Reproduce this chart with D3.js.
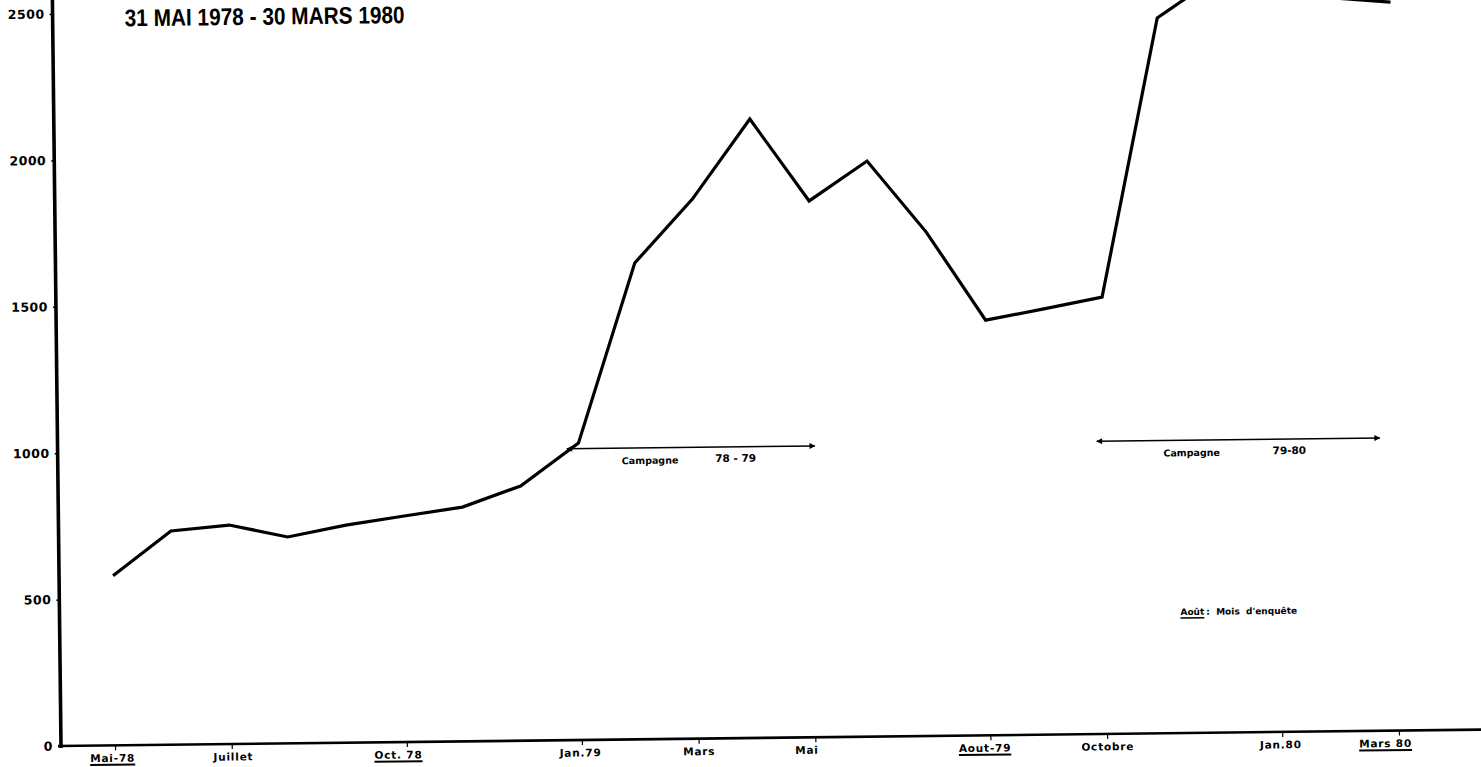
<!DOCTYPE html>
<html><head><meta charset="utf-8">
<script src="https://cdn.jsdelivr.net/npm/d3@7"></script>
<style>body{margin:0;background:#fff}svg{display:block;background:#fff}</style>
</head><body>
<svg id="c" width="1481" height="767"></svg>
<script>
// ---- data ----
const months = ["Mai 78","Juin 78","Juil 78","Août 78","Sept 78","Oct 78","Nov 78","Déc 78",
  "Jan 79","Fév 79","Mars 79","Avr 79","Mai 79","Juin 79","Juil 79","Août 79","Sept 79","Oct 79",
  "Nov 79","Déc 79","Jan 80","Fév 80","Mars 80"];
const values = [579,730,748,705,743,772,800,870,1014,1627,1843,2114,1832,1966,1721,1418,1454,1492,2443,2577,2620,2505,2488];
const tickMonths = [0,2,5,8,10,12,15,17,20,22];
const tickLabels = ["Mai-78","Juillet","Oct. 78","Jan.79","Mars","Mai","Aout-79","Octobre","Jan.80","Mars 80"];
const underlinedLabels = ["Mai-78","Oct. 78","Aout-79","Mars 80"];
const yTicks = [0,500,1000,1500,2000,2500];
const titleText = "31 MAI 1978 - 30 MARS 1980";
const campaignNames = ["Campagne","Campagne"];
const campaignPeriods = ["78 - 79","79-80"];
const campaignStart = [7.8, 16.88];
const campaignEnd = [12.05, 21.73];
const campaignLevel = [995, 1000];
const legendKey = "Août";
const legendText = ":  Mois  d'enquête";
const legendMonth = 18.28, legendValue = 403;

// ---- layout ----
const FONT = "'DejaVu Sans', sans-serif";
const svg = d3.select("#c");
const x = d3.scaleLinear().domain([0,22]).range([115,1399]);
const y = d3.scaleLinear().domain([0,2500]).range([746,14]);
const ox = 61, oy = 746;
const labelNudge = [-3,1,-9,-2,0,-9,-6,0,-2,-14];

const defs = svg.append("defs");
defs.append("marker").attr("id","ah").attr("viewBox","0 0 10 10").attr("refX",9).attr("refY",5)
  .attr("markerWidth",10).attr("markerHeight",6).attr("markerUnits","userSpaceOnUse")
  .attr("orient","auto-start-reverse")
  .append("path").attr("d","M0,0L10,5L0,10Z").attr("fill","#000");

const g = svg.append("g").attr("transform",`rotate(-0.66,${ox},${oy})`);

// title
g.append("text").attr("x",133).attr("y",27).attr("font-family","'Liberation Sans', Arial, sans-serif")
  .attr("font-weight","bold").attr("font-size",24).attr("textLength",280)
  .attr("lengthAdjust","spacingAndGlyphs").text(titleText);

// y axis
const ya = g.append("g").attr("transform",`translate(${ox},0)`)
  .call(d3.axisLeft(y).tickValues(yTicks).tickSize(3).tickPadding(5).tickFormat(d3.format("d")));
ya.select(".domain").remove();
ya.selectAll("text").attr("font-family",FONT).attr("font-weight","bold").attr("font-size",12.5)
  .attr("letter-spacing",0.5).attr("fill","#000");
ya.selectAll("line").attr("stroke","#000").attr("stroke-width",1.5);
g.append("line").attr("x1",ox).attr("x2",ox).attr("y1",oy+2).attr("y2",-40)
  .attr("stroke","#000").attr("stroke-width",3.6);

// x axis
const xa = g.append("g").attr("transform",`translate(0,${oy})`)
  .call(d3.axisBottom(x).tickValues(tickMonths).tickSize(5).tickPadding(4)
    .tickFormat((d,i)=>tickLabels[i]));
xa.select(".domain").remove();
xa.selectAll("line").attr("stroke","#000").attr("stroke-width",1.2);
xa.selectAll("text").attr("font-family",FONT).attr("font-weight","bold").attr("font-size",10.5)
  .attr("letter-spacing",0.8).attr("fill","#000")
  .attr("dx",(d,i)=>labelNudge[i]);
g.append("line").attr("x1",ox-3).attr("x2",1520).attr("y1",oy).attr("y2",oy)
  .attr("stroke","#000").attr("stroke-width",2.6);
xa.selectAll(".tick").each(function(d,i){
  if(!underlinedLabels.includes(tickLabels[i])) return;
  const t = d3.select(this).select("text");
  const bb = t.node().getBBox();
  d3.select(this).append("line").attr("x1",bb.x).attr("x2",bb.x+bb.width)
    .attr("y1",bb.y+bb.height+1).attr("y2",bb.y+bb.height+1)
    .attr("stroke","#000").attr("stroke-width",2);
});

// data line
const line = d3.line().x((d,i)=>x(i)).y(d=>y(d));
g.append("path").datum(values).attr("d",line).attr("fill","none")
  .attr("stroke","#000").attr("stroke-width",3.2).attr("stroke-linejoin","miter");

// campaign arrows
campaignNames.forEach((name,i)=>{
  const x1 = x(campaignStart[i]), x2 = x(campaignEnd[i]), yy = y(campaignLevel[i]);
  g.append("line").attr("x1",x1).attr("x2",x2).attr("y1",yy).attr("y2",yy)
    .attr("stroke","#000").attr("stroke-width",1.6)
    .attr("marker-start","url(#ah)").attr("marker-end","url(#ah)");
  g.append("text").attr("x",x1+(x2-x1)*0.335).attr("y",yy+16).attr("text-anchor","middle")
    .attr("font-family",FONT).attr("font-weight","bold").attr("font-size",9.5).text(name);
  g.append("text").attr("x",x1+(x2-x1)*0.68).attr("y",yy+15).attr("text-anchor","middle")
    .attr("font-family",FONT).attr("font-weight","bold").attr("font-size",10.5).text(campaignPeriods[i]);
});

// legend
const lk = g.append("text").attr("x",x(legendMonth)).attr("y",y(legendValue))
  .attr("font-family",FONT).attr("font-weight","bold").attr("font-size",9).text(legendKey);
const lw = lk.node().getComputedTextLength();
g.append("line").attr("x1",x(legendMonth)).attr("x2",x(legendMonth)+lw)
  .attr("y1",y(legendValue)+3).attr("y2",y(legendValue)+3).attr("stroke","#000").attr("stroke-width",1.5);
g.append("text").attr("x",x(legendMonth)+lw+2).attr("y",y(legendValue))
  .attr("font-family",FONT).attr("font-weight","bold").attr("font-size",9)
  .attr("xml:space","preserve").style("white-space","pre").text(legendText);
</script>
</body></html>
